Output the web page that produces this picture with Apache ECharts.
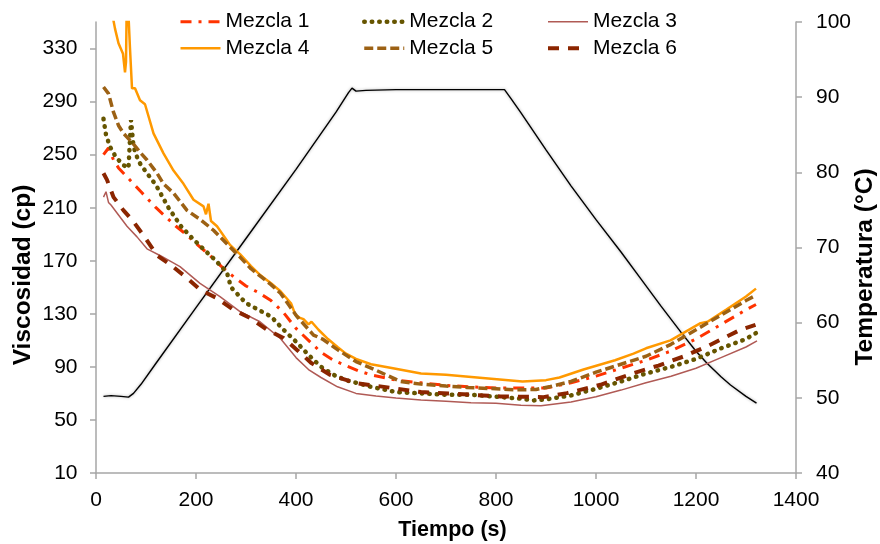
<!DOCTYPE html>
<html>
<head>
<meta charset="utf-8">
<script src="https://cdn.jsdelivr.net/npm/echarts@6/dist/echarts.min.js"></script>
<style>
html,body{margin:0;padding:0;background:#fff;}
#chart{width:880px;height:544px;}
</style>
</head>
<body>
<div id="chart"></div>
<script>
// ---- Data ----
const seriesNames = ['Mezcla 1','Mezcla 2','Mezcla 3','Mezcla 4','Mezcla 5','Mezcla 6'];

const t1 = [15,25,35,45,55,65,75,90,105,120,140,160,180,200,225,250,275,300,325,350,375,400,425,450,475,500,525,550,600,650,700,750,800,850,900,950,1000,1050,1100,1150,1200,1250,1300,1320];
const v1 = [250,255,246,240,236,232,228,222,216,210,203,196,190,183,175,166,158,151,146,140,131,119,110,101,95,91,87,84,80,78,76,75,74,74,74,78,83,89,95,102,111,122,133,137];

const t2 = [15,20,28,40,55,65,70,75,85,100,120,145,170,195,220,240,262,270,280,300,325,350,375,400,425,450,475,500,550,600,650,700,750,800,850,875,900,950,1000,1050,1100,1150,1200,1250,1300,1322];
const v2 = [277,265,256,248,242,240,276,256,245,237,227,210,196,186,177,170,161,150,146,138,133,128,118,109,99,90,84,80,75,71,70,69,69,67.5,66,64.7,65.5,68.5,73.5,79,85,90,96,104,111,116];

const t3 = [15,20,25,30,42,62,82,102,128,168,208,248,288,328,368,400,425,450,483,520,560,600,650,700,750,800,850,890,950,1000,1050,1100,1150,1200,1250,1300,1322];
const v3 = [218,222,214,212,206,196,188,179,174,165.6,153,143,131.7,124,111.7,97,88,82,75,70,68,66.5,65,64,63,62.5,61,60.7,63.5,67.5,72.5,78,83,89,97,105,109.6];

const t4 = [33,38,45,54,58,60,62,65,68,72,78,88,98,115,135,155,175,195,215,220,225,230,242,268,279,288,310,329,350,369,390,399,408,415,425,431,445,464,483,500,520,550,594,650,700,779,853,900,927,975,1038,1075,1100,1149,1209,1223,1260,1300,1320];
const v4 = [355,345,334,326,312,320,380,380,330,300,300,291,288,266,251,238,228,216,211,205,213,200,196,182,178,175,166,159,153,147,138,129,127,126,122,124,118,111,105,100,96,92,89,85,84,81.5,79,80,82,88,95,100,104,110,123,124,133,143,149];

const t5 = [15,25,35,45,55,75,90,102,122,135,155,182,209,235,269,290,310,330,350,369,385,402,435,453,483,520,557,609,650,700,742,800,842,880,909,950,1000,1050,1100,1150,1200,1250,1300,1320];
const v5 = [301,296,282,272,266,258,251,246,236,228,221,208,201,193,180,172,164,158,152,145.5,137,128,114,111,103,94,88,79,77,75.5,74.5,73.5,72.7,73,75.2,79,86,92,98,107,118,129,140,144];

const t6 = [15,22,35,55,75,99,122,149,182,209,242,275,309,342,375,402,431,468,520,594,650,705,750,809,850,895,942,1009,1075,1125,1175,1225,1289,1319];
const v6 = [236,231,218,208,199.5,187,174,167,157,148,141.8,133,126.7,118,111.7,102.8,92.8,84,77.8,74,71,70,69,67.7,67.5,67.2,70.2,76.5,85.3,91,97.8,106,118,121.7];

const tTemp = [15,30,50,65,75,90,120,200,300,400,480,505,512,520,540,600,700,800,817,830,850,900,950,1000,1050,1089,1130,1169,1200,1222,1250,1269,1300,1321];
const vTemp = [50.2,50.3,50.2,50.1,50.6,51.8,54.6,62.0,71.2,80.4,88.0,90.6,91.2,90.8,90.9,91.0,91.0,91.0,91.0,89.8,87.9,83.0,78.2,73.7,69.4,65.9,62.2,58.8,56.2,54.6,52.8,51.7,50.2,49.3];

const xTicks = {min:0, max:1400, interval:200};
const yTicks = {min:10, max:350, interval:40};
const y2Ticks = {min:40, max:100, interval:10};

// ---- Build ----
function pairs(t, v){ return t.map((x,i)=>[x, v[i]]); }
const FONT = "'Liberation Sans', Arial, sans-serif";
const axisGray = '#A6A6A6';

const styles = [
  {color:'#FF3300', width:3, type:[11,7,3,7], cap:'butt'},
  {color:'#665500', width:4.5, type:[0.5,7], cap:'round'},
  {color:'#B05A55', width:1.5, type:'solid', cap:'butt'},
  {color:'#FF9900', width:2.5, type:'solid', cap:'butt'},
  {color:'#9C6114', width:3.5, type:[9,4], cap:'butt'},
  {color:'#8B2500', width:4, type:[11,9], cap:'butt'}
];
const dataSets = [pairs(t1,v1),pairs(t2,v2),pairs(t3,v3),pairs(t4,v4),pairs(t5,v5),pairs(t6,v6)];

const series = seriesNames.map((n,i)=>({
  name:n, type:'line', yAxisIndex:0, data:dataSets[i],
  showSymbol:false, symbol:'none', smooth:false, clip:true,
  lineStyle:{color:styles[i].color, width:styles[i].width, type:styles[i].type, cap:styles[i].cap},
  itemStyle:{color:styles[i].color},
  emphasis:{disabled:true}, z: 3
}));
series.push({
  name:'Temperatura', type:'line', yAxisIndex:1, data:pairs(tTemp,vTemp),
  showSymbol:false, symbol:'none',
  lineStyle:{color:'#000', width:1.4, shadowColor:'rgba(0,0,0,0.35)', shadowBlur:3},
  emphasis:{disabled:true}, z: 2
});

function legendCol(names, left){
  return {
    orient:'vertical', left:left, top:11.2, padding:0, itemGap:5.6,
    itemWidth:40, itemHeight:14, data:names, selectedMode:false,
    textStyle:{fontFamily:FONT, fontSize:21, color:'#000', lineHeight:21},
    itemStyle:{opacity:0},
    lineStyle:{width:'inherit', type:'inherit', cap:'inherit'}
  };
}

const leftTicks = [];
for (let v = yTicks.min; v < yTicks.max; v += yTicks.interval) leftTicks.push(v);

const chart = echarts.init(document.getElementById('chart'), null, {renderer:'canvas'});
chart.setOption({
  animation:false,
  backgroundColor:'#fff',
  legend:[
    legendCol(['Mezcla 1','Mezcla 4'],179),
    legendCol(['Mezcla 2','Mezcla 5'],362),
    legendCol(['Mezcla 3','Mezcla 6'],546)
  ],
  grid:{left:96, right:84, top:22, bottom:71, containLabel:false, outerBoundsMode:'none'},
  xAxis:{
    type:'value', min:xTicks.min, max:xTicks.max, interval:xTicks.interval,
    name:'Tiempo (s)', nameLocation:'middle', nameGap:46.5, nameMoveOverlap:false,
    nameTextStyle:{fontFamily:FONT, fontSize:21.5, fontWeight:'bold', color:'#000', padding:[0,0,0,13]},
    axisLine:{show:true, onZero:false, lineStyle:{color:axisGray, width:1.5}},
    axisTick:{show:true, length:6, lineStyle:{color:axisGray, width:1.5}},
    axisLabel:{fontFamily:FONT, fontSize:21, color:'#000', margin:17, formatter:(v)=>String(v)},
    splitLine:{show:false}
  },
  yAxis:[{
    type:'value', position:'left', min:yTicks.min, max:yTicks.max, interval:yTicks.interval,
    name:'Viscosidad (cp)', nameLocation:'middle', nameGap:60.5, nameMoveOverlap:false,
    nameTextStyle:{fontFamily:FONT, fontSize:24.5, fontWeight:'bold', color:'#000', padding:[0,55,0,0]},
    axisLine:{show:true, onZero:false, lineStyle:{color:axisGray, width:1.5}},
    axisTick:{show:true, length:6, customValues:leftTicks, lineStyle:{color:axisGray, width:1.5}},
    axisLabel:{fontFamily:FONT, fontSize:21, color:'#000', margin:18.5, showMaxLabel:false},
    splitLine:{show:false}
  },{
    type:'value', position:'right', min:y2Ticks.min, max:y2Ticks.max, interval:y2Ticks.interval,
    name:'Temperatura (°C)', nameLocation:'middle', nameGap:57, nameMoveOverlap:false,
    nameTextStyle:{fontFamily:FONT, fontSize:24.5, fontWeight:'bold', color:'#000', padding:[0,39,0,0]},
    axisLine:{show:true, onZero:false, lineStyle:{color:axisGray, width:1.5}},
    axisTick:{show:true, length:6, lineStyle:{color:axisGray, width:1.5}},
    axisLabel:{fontFamily:FONT, fontSize:21, color:'#000', margin:20},
    splitLine:{show:false}
  }],
  series:series
});
</script>
</body>
</html>
